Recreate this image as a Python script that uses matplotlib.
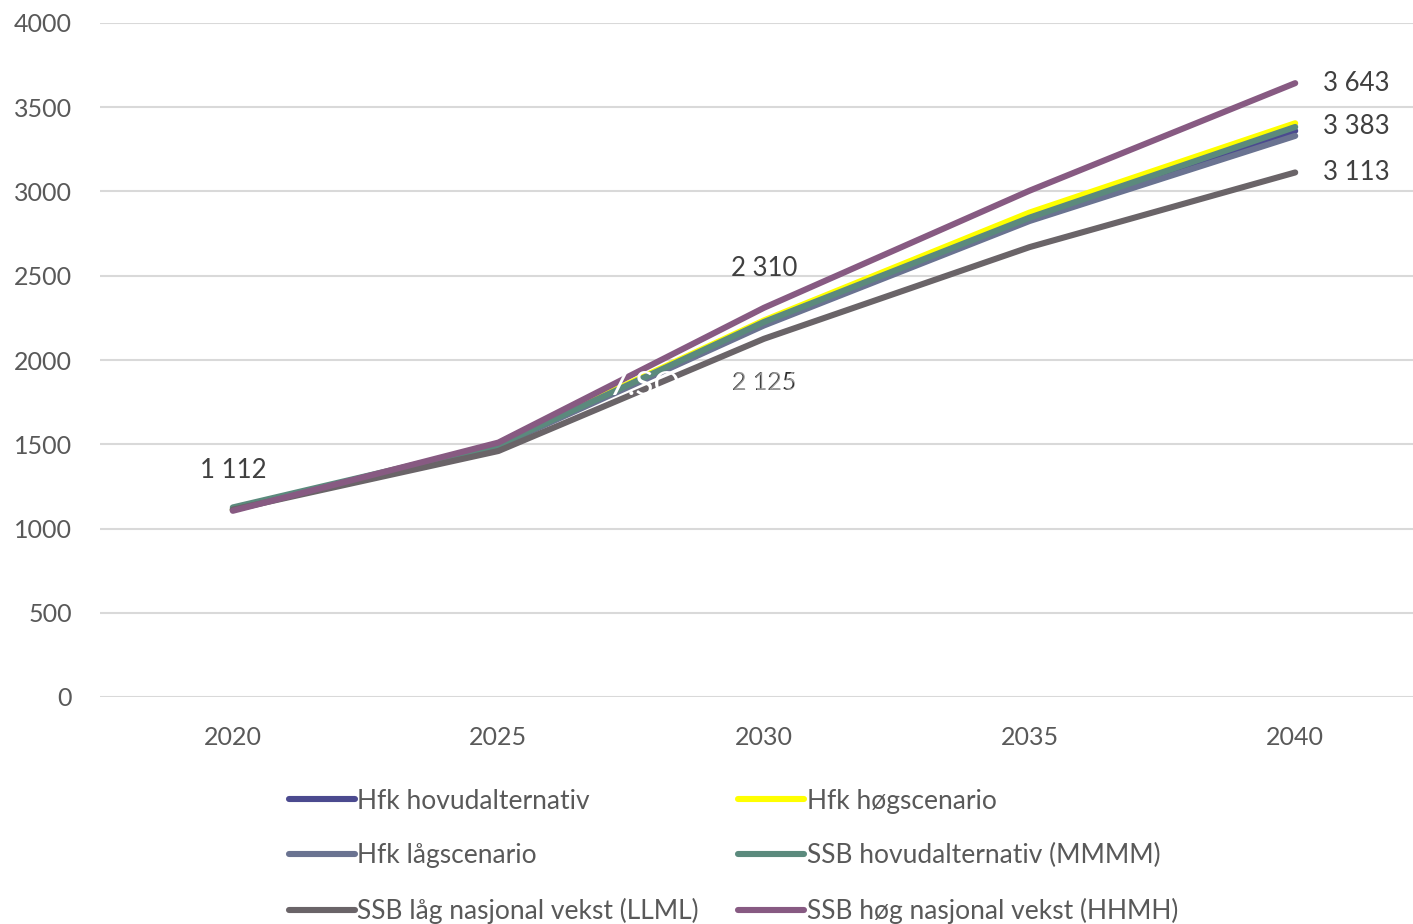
import matplotlib.pyplot as plt

# data
years = [2020, 2025, 2030, 2035, 2040]
hfk_hovud = [1112, 1495, 2215, 2840, 3360]
hfk_hog = [1112, 1500, 2235, 2875, 3405]
hfk_lag = [1112, 1490, 2205, 2825, 3330]
ssb_hovud = [1125, 1495, 2226, 2845, 3383]
ssb_lag = [1112, 1460, 2126, 2670, 3113]
ssb_hog = [1105, 1510, 2310, 3005, 3643]

series = [
    ("Hfk hovudalternativ", hfk_hovud, "#4b4a8f"),
    ("Hfk høgscenario", hfk_hog, "#ffff00"),
    ("Hfk lågscenario", hfk_lag, "#6a7391"),
    ("SSB hovudalternativ (MMMM)", ssb_hovud, "#5b8a7d"),
    ("SSB låg nasjonal vekst (LLML)", ssb_lag, "#6a6468"),
    ("SSB høg nasjonal vekst (HHMH)", ssb_hog, "#875a82"),
]

plt.rcParams["font.family"] = ["Lato", "DejaVu Sans"]
text_col = "#595959"
lab_col = "#404040"

fig = plt.figure(figsize=(14.13, 9.24), dpi=100)
ax = fig.add_axes([100 / 1413, 1 - 697 / 924, 1328 / 1413, 674 / 924])

lines = []
for name, vals, col in series:
    (ln,) = ax.plot(years, vals, color=col, lw=4.4, solid_capstyle="round", label=name, zorder=3)
    lines.append(ln)

ax.set_xlim(2017.5, 2042.5)
ax.set_ylim(0, 4000)
ax.set_yticks(range(0, 4001, 500))
ax.set_xticks(years)
ax.grid(axis="y", color="#d9d9d9", lw=1.5, zorder=0)
for s in ax.spines.values():
    s.set_visible(False)
ax.tick_params(length=0, labelsize=18, colors=text_col)
ax.tick_params(axis="y", pad=20)
ax.tick_params(axis="x", pad=21)

# data labels
kw = dict(ha="center", va="center", fontsize=18.5, color=lab_col)
ax.text(2020, 1112 + 235, "1 112", **kw)
ax.text(2030, 2310 + 235, "2 310", **kw)
ax.text(2041.15, 3643, "3 643", **kw)
ax.text(2041.15, 3383, "3 383", **kw)
ax.text(2041.15, 3113, "3 113", **kw)

# overlapping ghost labels from the source
ax.text(2030, 1865, "2 125", ha="center", va="center", fontsize=18, color="#303030", zorder=5)
ax.text(2030.03, 1865, "2 126", ha="center", va="center", fontsize=18, color="white", alpha=0.5, zorder=6)
ax.text(2027.75, 1845, "7.SO", ha="center", va="center", fontsize=24, color="white", zorder=6)

# legend rows as in the source: filled row by row
order = [0, 2, 4, 1, 3, 5]
fig.legend(
    [lines[i] for i in order],
    [series[i][0] for i in order],
    loc="upper left",
    bbox_to_anchor=(278 / 1413, 1 - 778 / 924),
    ncol=2,
    frameon=False,
    fontsize=19,
    handlelength=2.5,
    handletextpad=0.1,
    labelspacing=1.13,
    columnspacing=1.5,
    labelcolor=text_col,
    borderaxespad=0,
)

fig.savefig("out.png", dpi=100)
